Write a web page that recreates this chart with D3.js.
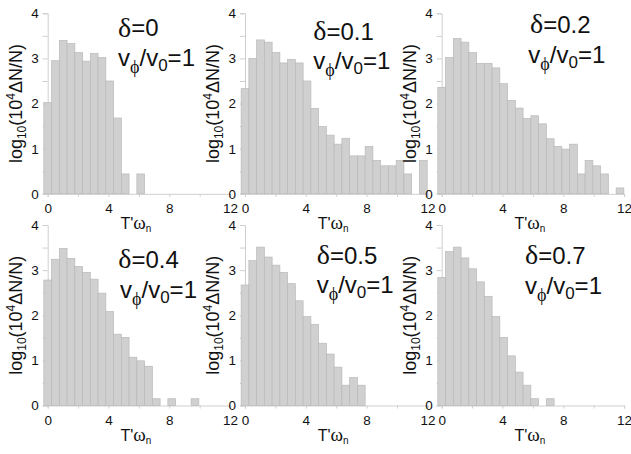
<!DOCTYPE html>
<html>
<head>
<meta charset="utf-8">
<script src="https://cdn.jsdelivr.net/npm/d3@7"></script>
<style>
  body { margin: 0; background: #fff; }
  svg { display: block; }
</style>
</head>
<body>
<svg id="chart" width="631" height="454"></svg>
<script>
// Bin centres of T'ω_n (bin width 0.51)
const binCenters = [0, 0.51, 1.02, 1.53, 2.04, 2.55, 3.06, 3.57, 4.08, 4.59, 5.1, 5.61,
                    6.12, 6.63, 7.14, 7.65, 8.16, 8.67, 9.18, 9.69, 10.2, 10.71, 11.22, 11.73];
const binWidth = 0.51;

// log10(10^4 ΔN/N) per bin; 0 = empty bin
const histDelta00 = [2.02, 2.95, 3.40, 3.33, 3.13, 2.94, 3.11, 3.02, 2.50, 1.68, 0.44, 0, 0.44];
const histDelta01 = [2.33, 3.00, 3.41, 3.36, 3.13, 2.90, 2.98, 2.90, 2.50, 1.89, 1.49, 1.30,
                     1.10, 1.23, 0.84, 0.84, 1.05, 0.74, 0.62, 0.62, 0.74, 0.44, 0, 0.74];
const histDelta02 = [2.36, 3.02, 3.44, 3.36, 3.13, 2.89, 2.89, 2.79, 2.44, 2.07, 1.90, 1.67,
                     1.73, 1.55, 1.22, 1.05, 0.99, 1.10, 0.44, 0.74, 0.62, 0.44, 0, 0.13];
const histDelta04 = [2.78, 3.24, 3.48, 3.26, 3.08, 2.95, 2.80, 2.49, 2.08, 1.58, 1.51, 1.07,
                     0.99, 0.87, 0.15, 0, 0.15, 0, 0, 0.15];
const histDelta05 = [2.67, 3.21, 3.51, 3.29, 3.11, 2.95, 2.70, 2.32, 1.97, 1.80, 1.38, 1.14,
                     0.85, 0.45, 0.62, 0.45];
const histDelta07 = [2.84, 3.41, 3.51, 3.27, 3.03, 2.74, 2.42, 1.97, 1.51, 1.10, 0.74, 0.45,
                     0.15, 0, 0.15];

const deltaLabels = ["0", "0.1", "0.2", "0.4", "0.5", "0.7"];
const velocityRatio = "1";

const xTickValues = [0, 2, 4, 6, 8, 10, 12];
const xTickLabels = ["0", "", "4", "", "8", "", "12"];
const yTickValues = [0, 0.5, 1, 1.5, 2, 2.5, 3, 3.5, 4];
const yTickLabels = ["0", "", "1", "", "2", "", "3", "", "4"];

// Panel layout
const colX = [47.7, 245, 441.7];   // pixel x of T'ω_n = 0 in each column
const rowTop = [13.3, 225];        // pixel y of value 4 in each row
const plotW = 182.4, plotH = 180.5;

// Annotation placement (offsets from each panel's origin)
const notePos = [
  { dx1: 70.3, dy1: 23.2, dx2: 70.3, dy2: 52.7 },
  { dx1: 68.3, dy1: 26.7, dx2: 68.3, dy2: 56.0 },
  { dx1: 88.3, dy1: 20.0, dx2: 86.6, dy2: 50.0 },
  { dx1: 70.6, dy1: 43.3, dx2: 72.3, dy2: 72.7 },
  { dx1: 71.7, dy1: 39.3, dx2: 71.7, dy2: 68.3 },
  { dx1: 83.3, dy1: 39.3, dx2: 83.3, dy2: 69.0 }
];

const series = [histDelta00, histDelta01, histDelta02, histDelta04, histDelta05, histDelta07];

const sans = "'Liberation Sans', Arial, sans-serif";
const serif = "'Liberation Serif', 'Times New Roman', serif";
const axisColor = "#cfcfcf";

const svg = d3.select("#chart");

series.forEach((vals, i) => {
  const col = i % 3, row = Math.floor(i / 3);
  const g = svg.append("g").attr("transform", `translate(${colX[col]},${rowTop[row]})`);

  const x = d3.scaleLinear().domain([0, 12]).range([0, plotW]);
  const y = d3.scaleLinear().domain([0, 4]).range([plotH, 0]);

  // axes
  const yAxis = d3.axisLeft(y).tickValues(yTickValues)
    .tickFormat((d, k) => yTickLabels[k]).tickSize(5).tickPadding(4);
  const yg = g.append("g").call(yAxis);
  yg.select(".domain").attr("stroke", axisColor);
  yg.selectAll(".tick line").attr("stroke", axisColor);
  yg.selectAll(".tick text").attr("font-family", sans).attr("font-size", 13.5).attr("fill", "#111");

  const xAxis = d3.axisBottom(x).tickValues(xTickValues)
    .tickFormat((d, k) => xTickLabels[k]).tickSize(3).tickPadding(7);
  const xg = g.append("g").attr("transform", `translate(0,${plotH})`).call(xAxis);
  xg.select(".domain").attr("stroke", axisColor);
  xg.selectAll(".tick line").attr("stroke", axisColor);
  xg.selectAll(".tick text").attr("font-family", sans).attr("font-size", 13.5).attr("fill", "#111");

  // bars
  const bins = vals.map((v, k) => ({ c: binCenters[k], v })).filter(d => d.v > 0);
  g.append("g").selectAll("rect").data(bins).join("rect")
    .attr("x", d => x(d.c - binWidth / 2))
    .attr("width", x(binWidth) - x(0))
    .attr("y", d => y(d.v))
    .attr("height", d => y(0) - y(d.v))
    .attr("fill", "#d0d0d0")
    .attr("stroke", "#b9b9b9")
    .attr("stroke-width", 0.7);

  // y label
  const yl = g.append("text")
    .attr("transform", `translate(-25.7,${plotH / 2}) rotate(-90)`)
    .attr("text-anchor", "middle")
    .attr("font-family", sans).attr("font-size", 18).attr("fill", "#111");
  yl.append("tspan").text("log");
  yl.append("tspan").attr("font-size", 12).attr("dy", 4).text("10");
  yl.append("tspan").attr("dy", -4).text("(10");
  yl.append("tspan").attr("font-size", 12).attr("dy", -7).text("4");
  yl.append("tspan").attr("dy", 7).text("ΔN/N)");

  // x label
  const xl = g.append("text")
    .attr("x", x(5.8)).attr("y", plotH + 35.5)
    .attr("text-anchor", "middle")
    .attr("font-family", sans).attr("font-size", 16).attr("fill", "#111");
  xl.append("tspan").text("T'");
  xl.append("tspan").attr("font-family", serif).attr("font-size", 19).text("ω");
  xl.append("tspan").attr("font-size", 10).attr("dy", 3).text("n");

  // parameter annotation
  const p = notePos[i];
  const t1 = g.append("text").attr("x", p.dx1).attr("y", p.dy1)
    .attr("font-family", sans).attr("font-size", 24).attr("fill", "#111");
  t1.append("tspan").attr("font-family", serif).attr("font-size", 28).text("δ");
  t1.append("tspan").text("=" + deltaLabels[i]);

  const t2 = g.append("text").attr("x", p.dx2).attr("y", p.dy2)
    .attr("font-family", sans).attr("font-size", 24).attr("fill", "#111");
  t2.append("tspan").text("v");
  t2.append("tspan").attr("font-family", serif).attr("font-size", 18).attr("dy", 7).text("ϕ");
  t2.append("tspan").attr("dy", -7).text("/v");
  t2.append("tspan").attr("font-size", 17).attr("dy", 5).text("0");
  t2.append("tspan").attr("dy", -5).text("=" + velocityRatio);
});
</script>
</body>
</html>
